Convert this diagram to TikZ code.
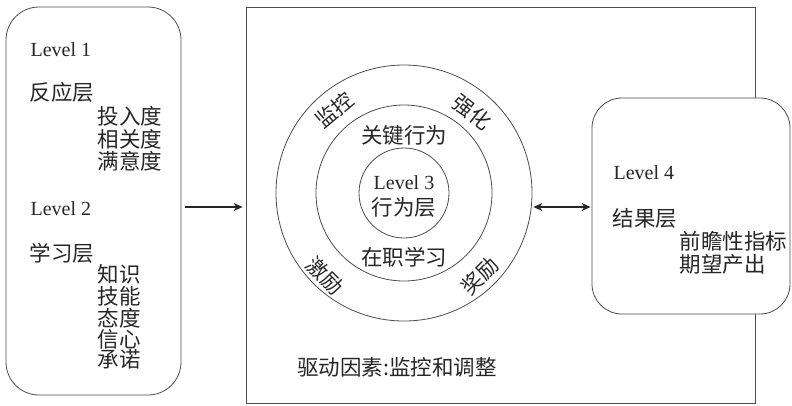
\documentclass[tikz,border=0pt]{standalone}
\usepackage{fontspec}
\setmainfont{Liberation Serif}
\newfontfamily\cjk{Noto Sans CJK SC}
\usetikzlibrary{arrows.meta}
\tikzset{
    every node/.style={font=\fontsize{20}{24}\selectfont, text=black!85},
    zh/.style={font=\fontsize{21.5}{24}\selectfont\cjk},
    frame/.style={draw=black!70, line width=0.8pt},
    conn/.style={draw=black!85, line width=1.8pt, -{Stealth[length=9pt,width=8pt]}},
}
\begin{document}
\begin{tikzpicture}[x=1pt, y=-1pt]
        \useasboundingbox (0,0) rectangle (792,405);
        \coordinate (axis) at (0,207);

        % Level 3 Rahmen und Kreise
        \node[frame, minimum width=509pt, minimum height=396pt] (ctrbox) at (500.5,205) {};
        \node[frame, circle, inner sep=0pt, minimum size=256pt] (outer) at (404,193) {};
        \node[frame, circle, inner sep=0pt, minimum size=176pt] (middle) at (404,193) {};
        \node[frame, circle, inner sep=0pt, minimum size=90pt] (inner) at (404,193) {};
        \node (lvl3) at (404,183) {Level 3};
        \node[zh] (lvl3name) at (404,207) {行为层};
        \node[zh, inner sep=1pt] (keybeh) at (404,135) {关键行为};
        \node[zh, inner sep=1pt] (onjob) at (404,257) {在职学习};
        \foreach \px/\py/\r/\val in {
            334/110/40/监控,
            472/112/-38/强化,
            325/276/-45/激励,
            480/276/45/奖励
            } {
            \node[zh, font=\fontsize{21}{24}\selectfont\cjk, rotate=\r, inner sep=0pt] (ring-\val) at (\px,\py) {\val};
        }
        \node[zh] (drivers) at (397,367) {驱动因素:监控和调整};

        % Level 1 und 2
        \node[frame, rounded corners=33pt, minimum width=175pt, minimum height=388pt] (left) at (93.5,201) {};
        \node[anchor=west] (lvl1) at (27,50) {Level 1};
        \node[zh, anchor=west] (lvl1name) at (26,92) {反应层};
        \foreach \y/\val in {
            116/投入度,
            139/相关度,
            161/满意度
            } {
            \node[zh, anchor=west] (l1-\y) at (94,\y) {\val};
        }
        \node[anchor=west] (lvl2) at (27,209) {Level 2};
        \node[zh, anchor=west] (lvl2name) at (26,253) {学习层};
        \foreach \y/\val in {
            274/知识,
            296/技能,
            318/态度,
            339/信心,
            359/承诺
            } {
            \node[zh, anchor=west] (l2-\y) at (94,\y) {\val};
        }

        % Level 4
        \node[frame, fill=white, rounded corners=30pt, minimum width=198pt, minimum height=216pt] (right) at (691,206) {};
        \node[anchor=west] (lvl4) at (610,173) {Level 4};
        \node[zh, anchor=west] (lvl4name) at (609,218) {结果层};
        \node[zh, anchor=west] (l4-a) at (676,241) {前瞻性指标};
        \node[zh, anchor=west] (l4-b) at (676,264) {期望产出};

        % Pfeile
        \draw[conn] ([xshift=4pt]left.east |- axis) -- ([xshift=-3pt]ctrbox.west |- axis);
        \draw[conn, {Stealth[length=9pt,width=8pt]}-{Stealth[length=9pt,width=8pt]}] ([xshift=1pt]outer.east |- axis) -- ([xshift=-1pt]right.west |- axis);
    \end{tikzpicture}
\end{document}
